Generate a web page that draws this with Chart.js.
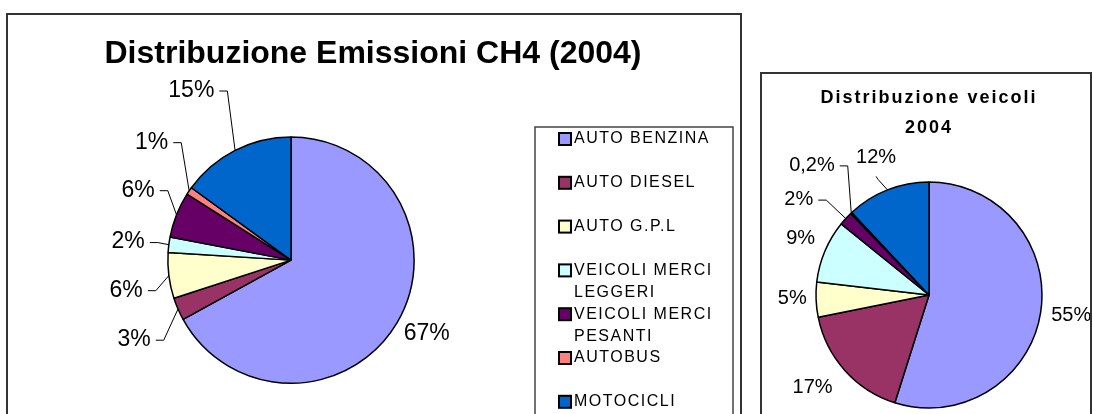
<!DOCTYPE html>
<html>
<head>
<meta charset="utf-8">
<script src="https://cdn.jsdelivr.net/npm/chart.js@4.4.1/dist/chart.umd.min.js"></script>
<style>
  body { margin: 0; background: #fff; overflow: hidden; }
  .box { position: absolute; box-sizing: border-box; border: 2px solid #333; background: #fff; }
  #boxCH4 { left: 6px; top: 13px; width: 736px; height: 430px; }
  #boxVeicoli { left: 760px; top: 72px; width: 332px; height: 370px; }
  canvas { position: absolute; left: 0; top: 0; }
</style>
</head>
<body>
<div class="box" id="boxCH4"><canvas id="chartCH4" width="732" height="400"></canvas></div>
<div class="box" id="boxVeicoli"><canvas id="chartVeicoli" width="328" height="340"></canvas></div>
<script>
// dati
const categorie = ['AUTO BENZINA', 'AUTO DIESEL', 'AUTO G.P.L', 'VEICOLI MERCI LEGGERI', 'VEICOLI MERCI PESANTI', 'AUTOBUS', 'MOTOCICLI'];
const emissioniCH4 = [67, 3, 6, 2, 6, 1, 15];
const veicoli2004 = [55, 17, 5, 9, 2, 0.2, 12];
const colori = ['#9999FF', '#993366', '#FFFFCC', '#CCFFFF', '#660066', '#FF8080', '#0066CC'];

Chart.defaults.font.family = '"Liberation Sans", Arial, sans-serif';
Chart.defaults.color = '#000';

const LEGENDA_SPAZIO = 164;

// etichette percentuali fuori dalla torta, con linee guida
const etichetteEsterne = {
    id: 'etichetteEsterne',
    afterDatasetsDraw(chart, args, opts) {
        const ctx = chart.ctx;
        const meta = chart.getDatasetMeta(0);
        const valori = chart.data.datasets[0].data;
        ctx.save();
        ctx.font = opts.size + 'px "Liberation Sans", Arial, sans-serif';
        ctx.fillStyle = '#000';
        ctx.strokeStyle = '#000';
        ctx.lineWidth = 1;
        ctx.textAlign = 'center';
        ctx.textBaseline = 'middle';
        meta.data.forEach((arc, i) => {
            const p = arc.getProps(['x', 'y', 'startAngle', 'endAngle', 'outerRadius'], true);
            const mid = (p.startAngle + p.endAngle) / 2;
            const ex = p.x + Math.cos(mid) * p.outerRadius;
            const ey = p.y + Math.sin(mid) * p.outerRadius;
            const n = opts.nudge[i] || [0, 0];
            const lx = p.x + Math.cos(mid) * p.outerRadius * opts.factor + n[0];
            const ly = p.y + Math.sin(mid) * p.outerRadius * opts.factor + n[1];
            const testo = String(valori[i]).replace('.', ',') + '%';
            ctx.fillText(testo, lx, ly);
            const tipo = opts.leader[i];
            if (tipo === 'right') {
                const w = ctx.measureText(testo).width;
                const x0 = lx + w / 2 + 5;
                ctx.beginPath();
                ctx.moveTo(x0, ly + 0.5);
                ctx.lineTo(x0 + 8, ly + 0.5);
                ctx.lineTo(ex, ey);
                ctx.stroke();
            } else if (tipo === 'below') {
                ctx.beginPath();
                ctx.moveTo(lx, ly + 19);
                ctx.lineTo(lx + 2, ly + 22);
                ctx.lineTo(ex, ey);
                ctx.stroke();
            }
        });
        ctx.restore();
    }
};

// legenda disegnata a mano, con riquadro
const legendaBox = {
    id: 'legendaBox',
    beforeInit(chart) {
        const fit = chart.legend.fit;
        chart.legend.fit = function () {
            fit.call(this);
            this.width = LEGENDA_SPAZIO;
        };
    },
    afterDraw(chart) {
        const ctx = chart.ctx;
        const colors = chart.data.datasets[0].backgroundColor;
        ctx.save();
        ctx.strokeStyle = '#444';
        ctx.lineWidth = 1.5;
        ctx.strokeRect(527, 112, 198, 320);
        ctx.font = '16px "Liberation Sans", Arial, sans-serif';
        ctx.letterSpacing = '1.5px';
        ctx.textBaseline = 'middle';
        ctx.textAlign = 'left';
        chart.data.labels.forEach((lab, i) => {
            const y = 124 + i * 43.8;
            ctx.fillStyle = colors[i];
            ctx.fillRect(551, y - 6, 12, 12);
            ctx.strokeStyle = '#000';
            ctx.lineWidth = 2;
            ctx.strokeRect(551, y - 6, 12, 12);
            // a capo se troppo lunga
            const parole = lab.split(' ');
            const righe = [];
            let riga = '';
            parole.forEach(w => {
                const prova = riga ? riga + ' ' + w : w;
                if (riga && ctx.measureText(prova).width > 150) {
                    righe.push(riga);
                    riga = w;
                } else {
                    riga = prova;
                }
            });
            righe.push(riga);
            ctx.fillStyle = '#000';
            righe.forEach((r, j) => ctx.fillText(r, 566, y + j * 22));
        });
        ctx.restore();
    }
};

// spaziatura lettere per il titolo piccolo
const titoloSpaziato = {
    id: 'titoloSpaziato',
    beforeDraw(chart) { chart.ctx.letterSpacing = '2px'; },
    beforeDatasetsDraw(chart) { chart.ctx.letterSpacing = '0px'; }
};

new Chart(document.getElementById('chartCH4'), {
    type: 'pie',
    data: {
        labels: categorie,
        datasets: [{
            data: emissioniCH4,
            backgroundColor: colori,
            borderColor: '#000',
            borderWidth: 1.5,
            hoverBorderWidth: 1.5,
            hoverOffset: 0,
            offset: 0
        }]
    },
    options: {
        responsive: false,
        animation: false,
        layout: { padding: { left: 0, right: 2, top: 0, bottom: 31 } },
        plugins: {
            legend: { display: false, position: 'right' },
            tooltip: { enabled: false },
            title: {
                display: true,
                text: 'Distribuzione Emissioni CH4 (2004)',
                color: '#000',
                font: { size: 32, weight: 'bold', lineHeight: 1.2 },
                padding: { top: 19.8, bottom: 63.05 }
            },
            etichetteEsterne: {
                size: 23,
                factor: 1.3,
                nudge: [[-2, -8], [-10, 16], [-6, 10], [-4, 2], [-4, -11], [-7, -28], [-27, -27]],
                leader: [null, 'right', 'right', 'right', 'right', 'right', 'right']
            }
        }
    },
    plugins: [legendaBox, etichetteEsterne]
});

new Chart(document.getElementById('chartVeicoli'), {
    type: 'pie',
    data: {
        labels: categorie,
        datasets: [{
            data: veicoli2004,
            backgroundColor: colori,
            borderColor: '#000',
            borderWidth: 1.5,
            hoverBorderWidth: 1.5,
            hoverOffset: 0,
            offset: 0
        }]
    },
    options: {
        responsive: false,
        animation: false,
        layout: { padding: { left: 20, right: 14, top: 0, bottom: 5.25 } },
        plugins: {
            legend: { display: false },
            tooltip: { enabled: false },
            title: {
                display: true,
                text: ['Distribuzione veicoli', '2004'],
                color: '#000',
                font: { size: 18, weight: 'bold', lineHeight: 1.6667 },
                padding: { top: 9, bottom: 38.25 }
            },
            etichetteEsterne: {
                size: 20,
                factor: 1.3,
                nudge: [[-3, -2], [-7, -6], [10, -3], [7, 0], [-22, 4], [-16, -23], [1, -1]],
                leader: [null, null, null, null, 'right', 'right', 'below']
            }
        }
    },
    plugins: [titoloSpaziato, etichetteEsterne]
});
</script>
</body>
</html>
